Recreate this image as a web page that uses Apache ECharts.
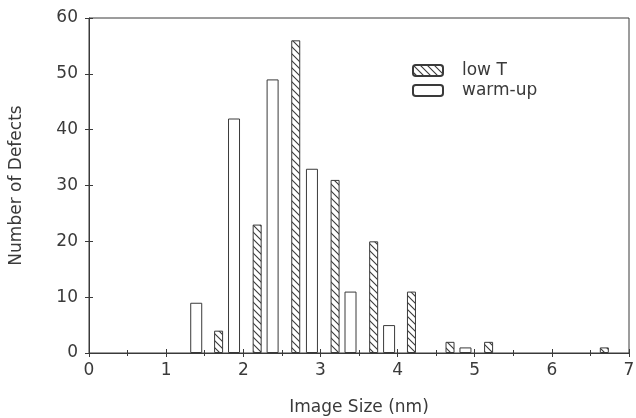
<!DOCTYPE html>
<html>
<head>
<meta charset="utf-8">
<script src="https://cdn.jsdelivr.net/npm/echarts@6/dist/echarts.min.js"></script>
<style>
  html, body { margin: 0; padding: 0; background: #fff; }
  #chart { width: 636px; height: 418px; }
</style>
</head>
<body>
<div id="chart"></div>
<script>
// histogram
const lowTSize = [1.68, 2.18, 2.68, 3.19, 3.69, 4.18, 4.68, 5.18, 6.68]
const lowTCount = [4, 23, 56, 31, 20, 11, 2, 2, 1]
const warmSize = [1.39, 1.88, 2.38, 2.89, 3.39, 3.89, 4.88]
const warmCount = [9, 42, 49, 33, 11, 5, 1]
const xTicks = [0, 1, 2, 3, 4, 5, 6, 7]
const yTicks = [0, 10, 20, 30, 40, 50, 60]

const ink = '#3a3a3a'
const font = 'DejaVu Sans'
const W = 636, H = 418
const gLeft = 89, gRight = 7, gTop = 18, gBottom = 65

function hatch() {
  let c = document.createElement('canvas')
  c.width = 7; c.height = 7
  let g = c.getContext('2d')
  g.fillStyle = '#fff'
  g.fillRect(0, 0, 7, 7)
  g.strokeStyle = ink
  g.lineWidth = 1.1
  g.beginPath()
  g.moveTo(-1, -1); g.lineTo(8, 8)
  g.moveTo(-1, 6); g.lineTo(1, 8)
  g.moveTo(6, -1); g.lineTo(8, 1)
  g.stroke()
  return c
}

let chart = echarts.init(document.getElementById('chart'))

let xBase = {
  type: 'value', min: xTicks[0], max: xTicks[xTicks.length - 1], interval: 1,
  splitLine: { show: false }
}
let yBase = {
  type: 'value', min: yTicks[0], max: yTicks[yTicks.length - 1], interval: 10,
  splitLine: { show: false }
}

let option = {
  animation: false,
  grid: {
    left: gLeft, right: gRight, top: gTop, bottom: gBottom,
    outerBoundsMode: 'none',
    show: true, borderColor: ink, borderWidth: 1
  },
  legend: {
    orient: 'vertical',
    left: 407, top: 57,
    itemWidth: 30, itemHeight: 11, itemGap: 3,
    textStyle: { fontFamily: font, fontSize: 17, color: ink, padding: [0, 0, 0, 14] },
    data: [
      { name: 'low T', icon: 'roundRect' },
      { name: 'warm-up', icon: 'roundRect' }
    ]
  },
  xAxis: [
    Object.assign({}, xBase, {
      position: 'bottom',
      name: 'Image Size (nm)', nameLocation: 'middle', nameGap: 46,
      nameTextStyle: { fontFamily: font, fontSize: 17, color: ink },
      axisLine: { lineStyle: { color: ink, width: 1 } },
      axisTick: { show: true, length: 4, lineStyle: { color: ink } },
      minorTick: { show: true, splitNumber: 2, length: 3, lineStyle: { color: ink } },
      axisLabel: { margin: 9, fontFamily: font, fontSize: 17, color: ink }
    }),
    // second x axis: sits on the bottom edge, its ticks point up into the plot
    Object.assign({}, xBase, {
      position: 'top',
      offset: -(H - gTop - gBottom),
      axisLine: { show: false, onZero: false },
      axisTick: { show: true, length: 4, lineStyle: { color: ink } },
      minorTick: { show: true, splitNumber: 2, length: 3, lineStyle: { color: ink } },
      axisLabel: { show: false }
    })
  ],
  yAxis: [
    Object.assign({}, yBase, {
      position: 'left',
      name: 'Number of Defects', nameLocation: 'middle', nameGap: 64,
      nameTextStyle: { fontFamily: font, fontSize: 17, color: ink },
      axisLine: { show: true, lineStyle: { color: ink, width: 1 } },
      axisTick: { show: true, length: 4, lineStyle: { color: ink } },
      axisLabel: { margin: 11, fontFamily: font, fontSize: 17, color: ink }
    }),
    Object.assign({}, yBase, {
      position: 'right',
      offset: -(W - gLeft - gRight),
      axisLine: { show: false, onZero: false },
      axisTick: { show: true, length: 4, lineStyle: { color: ink } },
      axisLabel: { show: false }
    })
  ],
  series: [
    {
      name: 'low T',
      type: 'bar',
      xAxisIndex: 0, yAxisIndex: 0,
      barWidth: 9,
      itemStyle: {
        color: { image: hatch(), repeat: 'repeat' },
        borderColor: ink, borderWidth: 1
      },
      data: lowTSize.map((x, i) => [x, lowTCount[i]])
    },
    {
      name: 'warm-up',
      type: 'bar',
      xAxisIndex: 1, yAxisIndex: 0,
      barWidth: 12,
      itemStyle: { color: '#fff', borderColor: ink, borderWidth: 1 },
      data: warmSize.map((x, i) => [x, warmCount[i]])
    }
  ]
}
chart.setOption(option)
</script>
</body>
</html>
